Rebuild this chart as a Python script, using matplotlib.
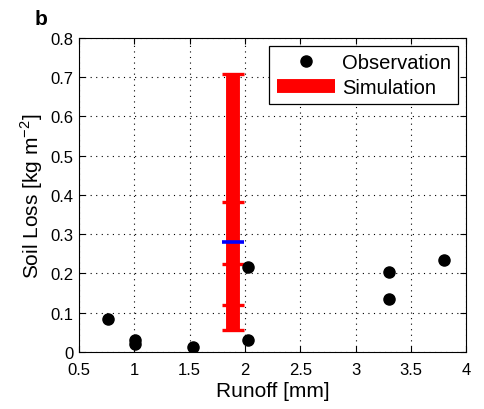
import matplotlib

matplotlib.use("Agg")
import matplotlib.pyplot as plt

plt.rcParams["font.family"] = ["Liberation Sans", "DejaVu Sans"]
plt.rcParams["mathtext.fontset"] = "custom"
plt.rcParams["mathtext.rm"] = "Liberation Sans"

# Observed soil loss against runoff
obs_runoff = [0.76, 1.01, 1.01, 1.53, 2.03, 2.03, 3.30, 3.30, 3.80]
obs_loss = [0.083, 0.031, 0.020, 0.013, 0.217, 0.030, 0.205, 0.135, 0.234]

# Simulated range at the mean runoff: min, quantile marks, max and median
sim_runoff = 1.89
sim_min, sim_max = 0.057, 0.708
sim_marks = [0.121, 0.224, 0.383]
sim_median = 0.281

fig = plt.figure(figsize=(4.85, 4.10), dpi=100)
ax = fig.add_axes([0.163, 0.139, 0.798, 0.766])

ax.vlines(sim_runoff, sim_min, sim_max, color="red", linewidth=10, zorder=2,
          label="Simulation")
ax.plot([sim_runoff] * (len(sim_marks) + 2), [sim_min, sim_max] + sim_marks,
        linestyle="none", marker="_", markersize=16, markeredgewidth=2.4,
        color="red", zorder=2)
ax.plot([sim_runoff], [sim_median], linestyle="none", marker="_",
        markersize=16, markeredgewidth=2.6, color="blue", zorder=3)

ax.plot(obs_runoff, obs_loss, linestyle="none", marker="o", markersize=8,
        color="black", zorder=4, label="Observation")

ax.set_xlim(0.5, 4.0)
ax.set_ylim(0, 0.8)
ax.set_xticks([0.5, 1, 1.5, 2, 2.5, 3, 3.5, 4])
ax.set_xticklabels(["0.5", "1", "1.5", "2", "2.5", "3", "3.5", "4"])
ax.set_yticks([0, 0.1, 0.2, 0.3, 0.4, 0.5, 0.6, 0.7, 0.8])
ax.set_yticklabels(["0", "0.1", "0.2", "0.3", "0.4", "0.5", "0.6", "0.7", "0.8"])
ax.tick_params(direction="in", top=True, right=True, labelsize=12, length=4)
ax.tick_params(axis="x", pad=7)
ax.tick_params(axis="y", pad=4)
ax.grid(True, linestyle=(0, (1, 4)), color="black", linewidth=0.8)
ax.set_axisbelow(True)

ax.set_xlabel("Runoff [mm]", fontsize=15, labelpad=3)
ax.set_ylabel("Soil Loss [kg m$^{-2}$]", fontsize=15, labelpad=4)

handles, labels = ax.get_legend_handles_labels()
leg = ax.legend(handles[::-1], labels[::-1], loc="upper right", fontsize=14.5,
                frameon=True, fancybox=False, edgecolor="black",
                borderpad=0.35, handlelength=2.9, labelspacing=0.28,
                borderaxespad=0.4, handletextpad=0.35)
leg.get_frame().set_linewidth(0.9)
leg.get_frame().set_alpha(1)

fig.text(0.072, 0.94, "b", fontsize=15, fontweight="bold")

fig.savefig("out.png", dpi=100)
